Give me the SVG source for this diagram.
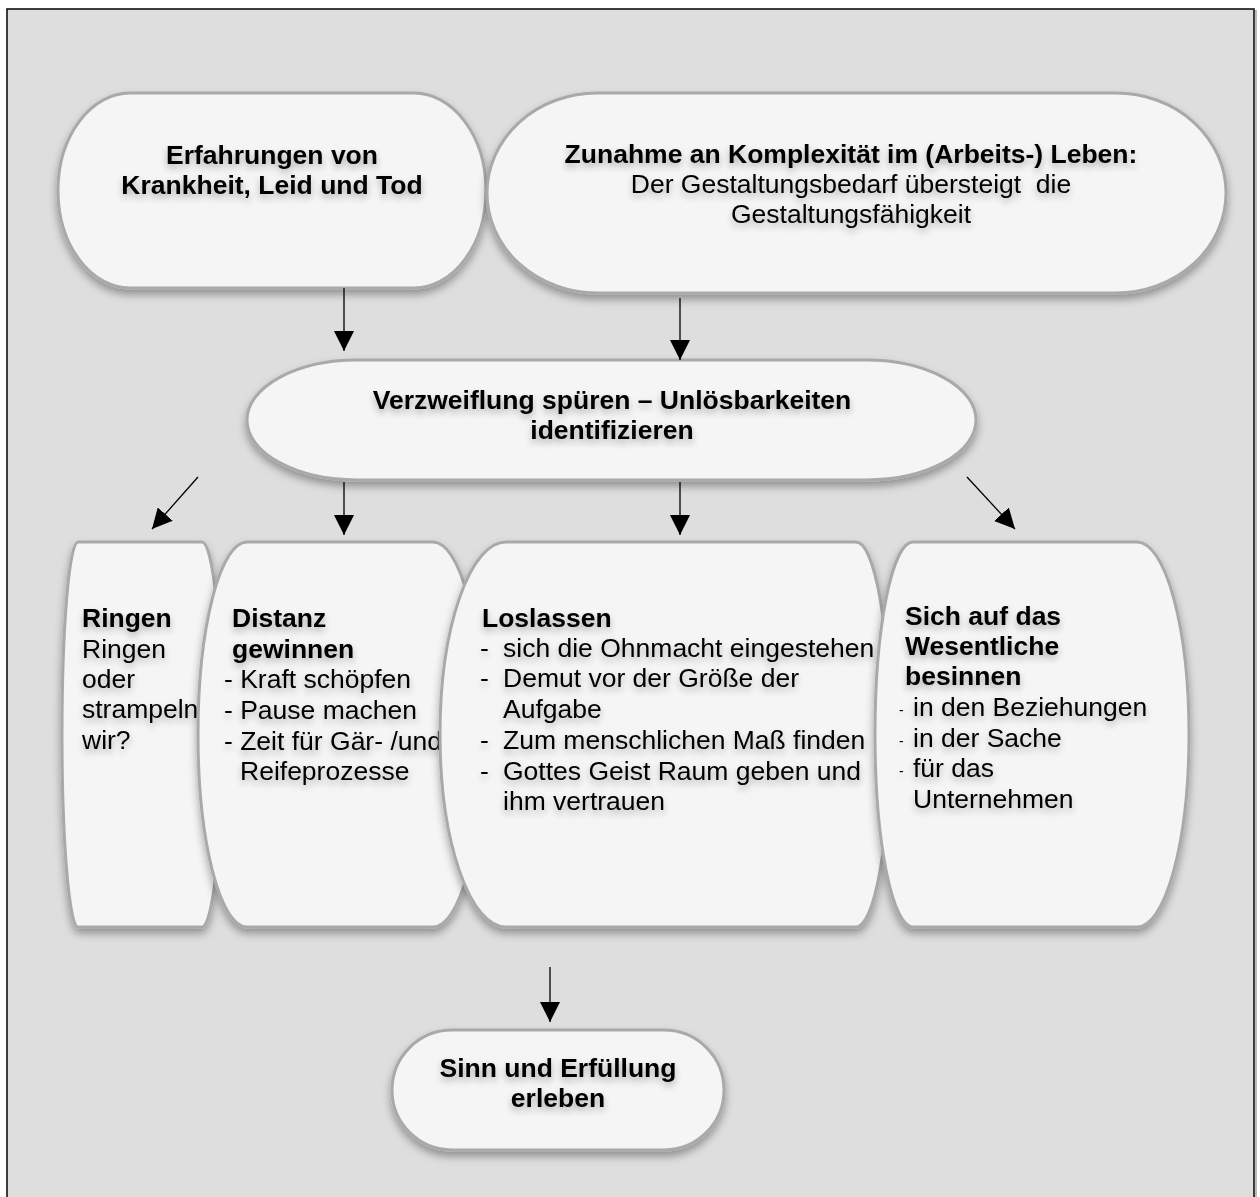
<svg xmlns="http://www.w3.org/2000/svg" width="1260" height="1197" viewBox="0 0 1260 1197">
<style>
.bg{fill:#dedede;stroke:#111;stroke-width:1.6}
.node{fill:#f5f5f5;stroke:#a9a9a9;stroke-width:3;filter:url(#ds)}
text{font-family:"Liberation Sans",Arial,Helvetica,sans-serif;font-size:26.5px;fill:#000}
.b{font-weight:bold}
.c{text-anchor:middle}
.tx{filter:url(#ts)}
.conn line{stroke:#000;stroke-width:1.3;marker-end:url(#ah)}
.sd{font-size:14px}
</style>
<defs>
<filter id="ds" x="-10%" y="-10%" width="120%" height="130%">
<feDropShadow dx="0" dy="5" stdDeviation="4" flood-color="#000" flood-opacity="0.35"/>
</filter>
<filter id="ts" x="-10%" y="-30%" width="120%" height="170%">
<feGaussianBlur in="SourceAlpha" stdDeviation="3.5"/>
<feOffset dy="4" result="o"/>
<feComponentTransfer><feFuncA type="linear" slope="0.3"/></feComponentTransfer>
<feMerge><feMergeNode/><feMergeNode in="SourceGraphic"/></feMerge>
</filter>
<marker id="ah" viewBox="0 0 20 20" refX="20" refY="10" markerWidth="20" markerHeight="20" markerUnits="userSpaceOnUse" orient="auto">
<path d="M0,0 L20,10 L0,20 Z" fill="#000"/>
</marker>
</defs>
<rect class="bg" x="7" y="9" width="1247" height="1200"/>
<line x1="1256" y1="10" x2="1256" y2="1197" stroke="#bbb" stroke-width="2"/>

<g id="n1">
<rect class="node" x="58" y="93" width="428" height="195" rx="72" ry="97.5"/>
<g class="tx">
<text class="b c" x="272" y="164">Erfahrungen von</text>
<text class="b c" x="272" y="194">Krankheit, Leid und Tod</text>
</g>
</g>

<g id="n2">
<rect class="node" x="487" y="93" width="739" height="200" rx="110" ry="100"/>
<g class="tx">
<text class="b c" x="851" y="163">Zunahme an Komplexität im (Arbeits-) Leben:</text>
<text class="c" x="851" y="193" xml:space="preserve">Der Gestaltungsbedarf übersteigt  die</text>
<text class="c" x="851" y="223">Gestaltungsfähigkeit</text>
</g>
</g>

<g id="n3">
<rect class="node" x="247" y="360" width="729" height="120" rx="110" ry="60"/>
<g class="tx">
<text class="b c" x="612" y="409">Verzweiflung spüren – Unlösbarkeiten</text>
<text class="b c" x="612" y="439">identifizieren</text>
</g>
</g>

<g id="ringen">
<path class="node" d="M78,542 H202 A20,192.5 0 0 1 222,734.5 A20,192.5 0 0 1 202,927 H78 A16,192.5 0 0 1 62,734.5 A16,192.5 0 0 1 78,542 Z"/>
<g class="tx">
<text class="b" x="82" y="627">Ringen</text>
<text x="82" y="658">Ringen</text>
<text x="82" y="688">oder</text>
<text x="82" y="718">strampeln</text>
<text x="82" y="749">wir?</text>
</g>
</g>

<g id="distanz">
<path class="node" d="M247,542 H433 A50,192.5 0 0 1 483,734.5 A50,192.5 0 0 1 433,927 H247 A49,192.5 0 0 1 198,734.5 A49,192.5 0 0 1 247,542 Z"/>
<g class="tx">
<text class="b" x="232" y="627">Distanz</text>
<text class="b" x="232" y="658">gewinnen</text>
<text x="224" y="688">- Kraft schöpfen</text>
<text x="224" y="719">- Pause machen</text>
<text x="224" y="750">- Zeit für Gär- /und</text>
<text x="240" y="780">Reifeprozesse</text>
</g>
</g>

<g id="loslassen">
<path class="node" d="M506,542 H856 A34,192.5 0 0 1 890,734.5 A34,192.5 0 0 1 856,927 H506 A66,192.5 0 0 1 440,734.5 A66,192.5 0 0 1 506,542 Z"/>
<g class="tx">
<text class="b" x="482" y="627">Loslassen</text>
<text x="480" y="657">-</text><text x="503" y="657">sich die Ohnmacht eingestehen</text>
<text x="480" y="687">-</text><text x="503" y="687">Demut vor der Größe der</text>
<text x="503" y="718">Aufgabe</text>
<text x="480" y="749">-</text><text x="503" y="749">Zum menschlichen Maß finden</text>
<text x="480" y="780">-</text><text x="503" y="780">Gottes Geist Raum geben und</text>
<text x="503" y="810">ihm vertrauen</text>
</g>
</g>

<g id="sich">
<path class="node" d="M913,542 H1137 A52,192.5 0 0 1 1189,734.5 A52,192.5 0 0 1 1137,927 H913 A38,192.5 0 0 1 875,734.5 A38,192.5 0 0 1 913,542 Z"/>
<g class="tx">
<text class="b" x="905" y="625">Sich auf das</text>
<text class="b" x="905" y="655">Wesentliche</text>
<text class="b" x="905" y="685">besinnen</text>
<text class="sd" x="899" y="715">-</text><text x="913" y="716">in den Beziehungen</text>
<text class="sd" x="899" y="746">-</text><text x="913" y="747">in der Sache</text>
<text class="sd" x="899" y="776">-</text><text x="913" y="777">für das</text>
<text x="913" y="808">Unternehmen</text>
</g>
</g>

<g id="sinn">
<rect class="node" x="392" y="1030" width="332" height="120" rx="60" ry="60"/>
<g class="tx">
<text class="b c" x="558" y="1077">Sinn und Erfüllung</text>
<text class="b c" x="558" y="1107">erleben</text>
</g>
</g>

<g id="connectors" class="conn">
<line x1="344" y1="288" x2="344" y2="351"/>
<line x1="680" y1="298" x2="680" y2="360"/>
<line x1="198" y1="477" x2="152" y2="529"/>
<line x1="344" y1="482" x2="344" y2="535"/>
<line x1="680" y1="482" x2="680" y2="535"/>
<line x1="967" y1="477" x2="1015" y2="529"/>
<line x1="550" y1="967" x2="550" y2="1022"/>
</g>
</svg>
